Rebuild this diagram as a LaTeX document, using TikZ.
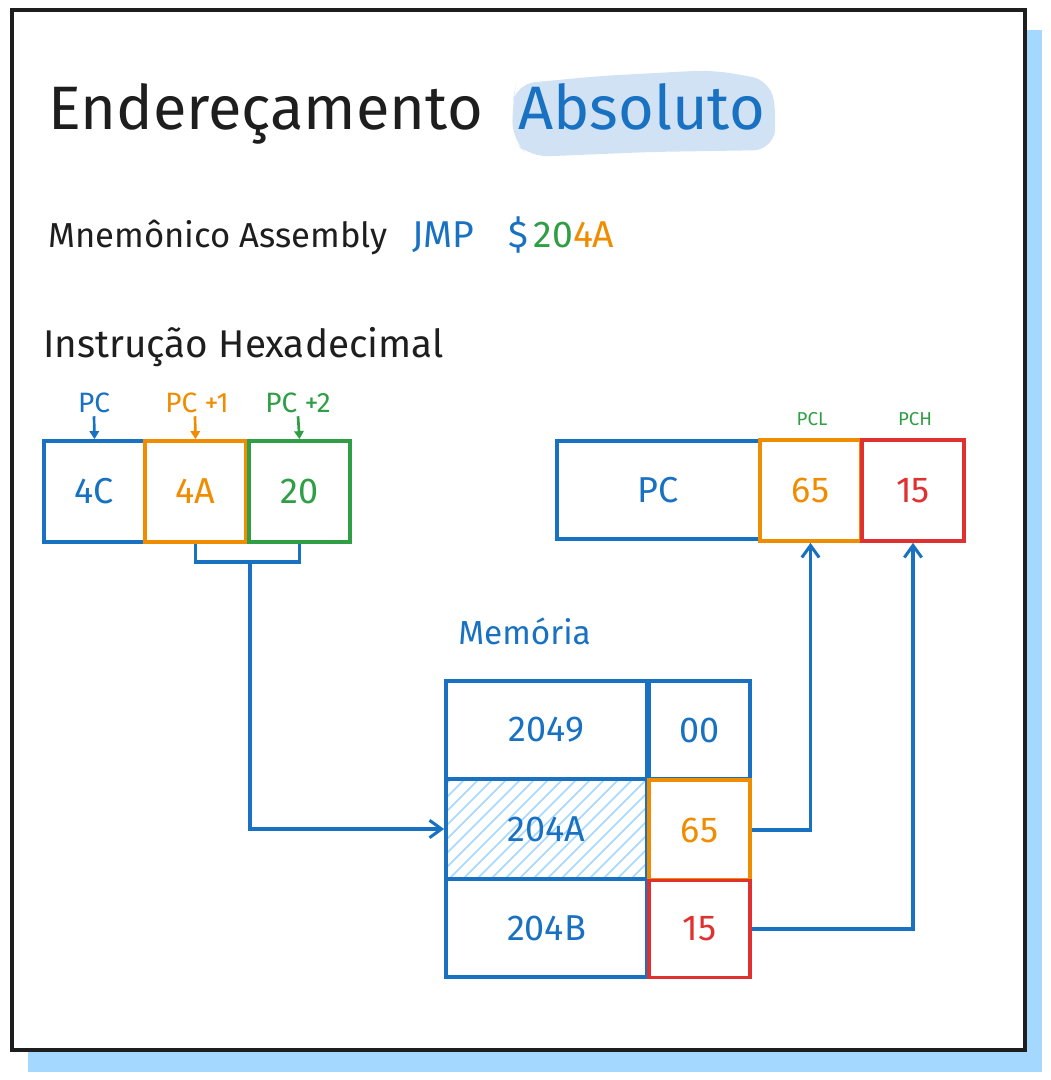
\documentclass[tikz,border=0pt]{standalone}
\usepackage{fontspec}
\setmainfont{Fira Sans}
\usetikzlibrary{arrows.meta,calc}
\definecolor{cblue}{HTML}{1971C2}
\definecolor{corange}{HTML}{F08C00}
\definecolor{cgreen}{HTML}{2F9E44}
\definecolor{cred}{HTML}{E03131}
\definecolor{cshadow}{HTML}{A5D8FF}
\definecolor{chl}{HTML}{D0E2F4}
\definecolor{cdark}{HTML}{1E1E1E}
\newcommand{\fsz}[1]{\fontsize{#1}{#1}\selectfont}
\begin{document}
\begin{tikzpicture}[x=0.75pt,y=-0.75pt,
  cellb/.style 2 args={draw, line width=2.8pt, minimum width=#1*0.75pt, minimum height=#2*0.75pt, inner sep=0pt, font=\fsz{27}},
  toplabel/.style={inner sep=0pt, font=\fsz{21}},
  smalllabel/.style={inner sep=0pt, font=\fsz{14}, text=cgreen},
  conn/.style={draw=cblue, line width=2.3pt, -{Straight Barb[length=9pt,width=13pt,line width=2.3pt]}},
  pointer/.style={line width=2pt, -{Triangle[length=6pt,width=7pt]}},
]
% canvas
\fill[white] (0,0) rectangle (1050,1080);
\fill[cshadow] (28,30) rectangle (1042,1072);
\fill[white] (12,10) rectangle (1025,1050);
\draw[cdark, line width=3pt] (12,10) rectangle (1025,1050);

% title
\fill[chl, rounded corners=14pt] (516,84) -- (600,76) -- (712,70) -- (770,80) -- (777,118) -- (772,150) -- (650,152) -- (530,157) -- (512,140) -- (513,100) -- cycle;
\node[anchor=base west, inner sep=0pt, font=\fsz{46}, text=cdark] (t1) at (48,130) {Endereçamento};
\node[anchor=base west, inner sep=0pt, font=\fsz{46}, text=cblue] (t2) at (518,130) {Absoluto};

% mnemonic
\node[anchor=base west, inner sep=0pt, font=\fsz{26}, text=cdark] (mn) at (48,248) {Mnemônico Assembly};
\node[anchor=base west, inner sep=0pt, font=\fsz{28}, text=cblue] (jmp) at (412,248) {JMP};
\node[anchor=base west, inner sep=0pt, font=\fsz{28}, text=cblue] (addr) at (508,248) {\$\hspace{0.15em}{\color{cgreen}20}{\color{corange}4A}};

% instruction
\node[anchor=base west, inner sep=0pt, font=\fsz{29}, text=cdark] (ins) at (43,357) {Instrução Hexadecimal};

% instruction bytes
\node[cellb={101}{101}, draw=cblue, text=cblue] (b4C) at (94.5,491.5) {4C};
\node[cellb={101}{101}, draw=corange, text=corange] (b4A) at (195.5,491.5) {4A};
\node[cellb={101}{101}, draw=cgreen, text=cgreen] (b20) at (299.5,491.5) {20};

\node[toplabel, text=cblue] (lpc) at (94,403) {PC};
\node[toplabel, text=corange] (lpc1) at (197,403) {PC +1};
\node[toplabel, text=cgreen] (lpc2) at (298,403) {PC +2};
\draw[pointer, cblue] ($(lpc.south)+(0,3)$) -- (b4C.north);
\draw[pointer, corange] ($(lpc1.south)+(-2,3)$) -- ($(b4A.north)$);
\draw[pointer, cgreen] ($(lpc2.south)+(0,3)$) -- ($(b20.north)$);

% PC register
\node[cellb={203}{98}, draw=cblue, text=cblue] (pc) at (658.5,490) {PC};
\node[cellb={101}{101}, draw=corange, text=corange] (pcl) at (810.5,490.5) {65};
\node[cellb={102}{101}, draw=cred, text=cred] (pch) at (913,490.5) {15};
\node[smalllabel] (lpcl) at (812,419) {PCL};
\node[smalllabel] (lpch) at (915,419) {PCH};

% memory
\node[anchor=base west, inner sep=0pt, font=\fsz{25}, text=cblue] (mem) at (458,644) {Memória};

\begin{scope}
\clip (447,780) rectangle (646,878);
\foreach \i in {-8,...,16} {
  \draw[cshadow, line width=1.2pt] (446+\i*14,882) -- ++(104,-104);
}
\end{scope}

\node[cellb={201}{98}, draw=cblue, text=cblue] (m2049) at (546.5,730) {2049};
\node[cellb={201}{100}, draw=cblue, text=cblue] (m204A) at (546.5,829) {204A};
\node[cellb={201}{98}, draw=cblue, text=cblue] (m204B) at (546.5,928) {204B};
\node[cellb={101}{98}, draw=cblue, text=cblue] (v00) at (699.5,730) {00};
\node[cellb={101}{100}, draw=corange, text=corange] (v65) at (699.5,830) {65};
\node[cellb={101}{97}, draw=cred, text=cred] (v15) at (699.5,929) {15};

% connectors
\coordinate (j) at (250,562);
\draw[cblue, line width=2.3pt] (b4A.south) |- (j) -| (b20.south);
\draw[conn] (j) |- (m204A.west);
\draw[conn] (v65.east) -| (pcl.south);
\draw[conn] (v15.east) -| (pch.south);
\end{tikzpicture}
\end{document}
